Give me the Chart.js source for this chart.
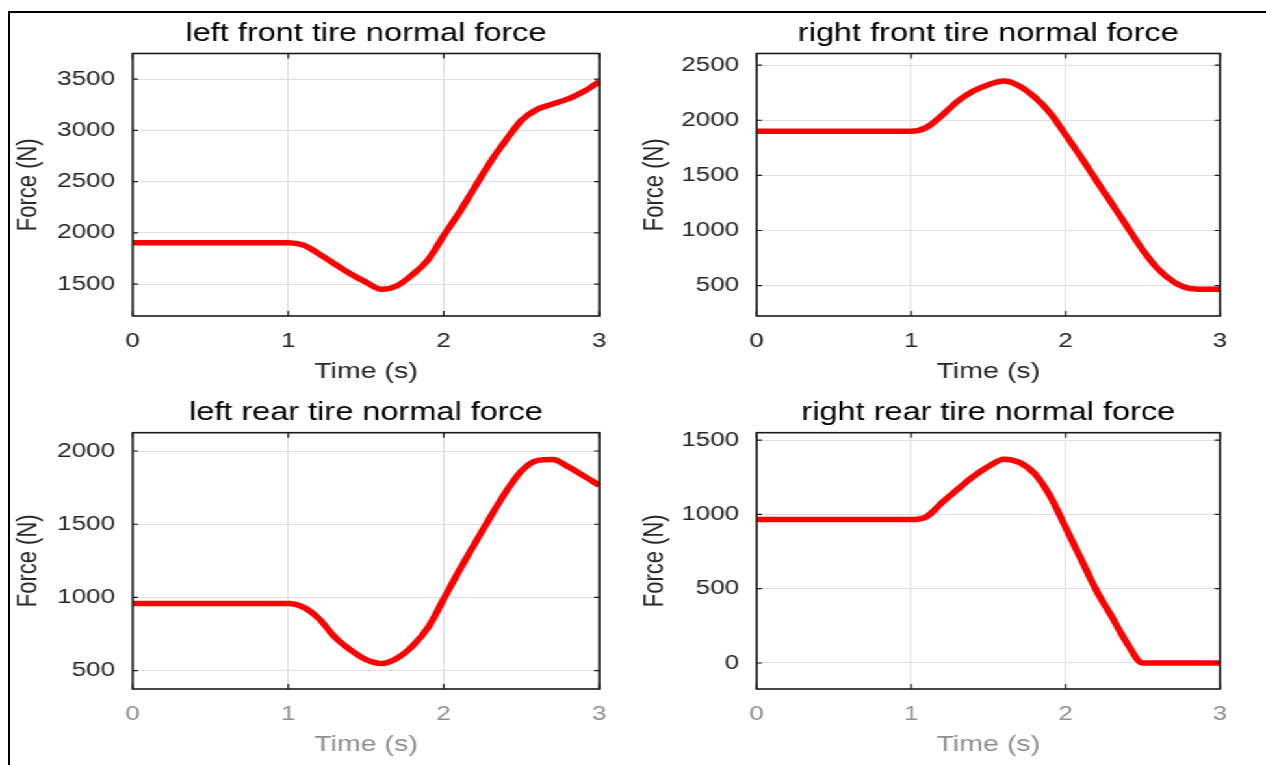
<!DOCTYPE html>
<html>
<head>
<meta charset="utf-8">
<title>Tire normal forces</title>
<script src="https://cdn.jsdelivr.net/npm/chart.js@4.4.1/dist/chart.umd.min.js"></script>
<style>
  html, body { margin: 0; padding: 0; background: #fff; }
  body { width: 1266px; height: 765px; overflow: hidden; position: relative; }
  /* the figure is cropped: only its top and left edge show */
  #frame { position: absolute; left: 8px; top: 11px; width: 1300px; height: 800px;
           border-top: 2px solid #000; border-left: 2px solid #000; }
  /* the source picture is stretched sideways, so the whole stage is too */
  #stage { position: absolute; left: 0; top: 0; width: 974px; height: 765px;
           transform: scaleX(1.2998); transform-origin: 0 0; }
  #stage canvas { position: absolute; left: 0; top: 0; }
</style>
</head>
<body>
<div id="frame"></div>
<div id="stage">
  <canvas id="lf" width="974" height="765"></canvas>
  <canvas id="rf" width="974" height="765"></canvas>
  <canvas id="lr" width="974" height="765"></canvas>
  <canvas id="rr" width="974" height="765"></canvas>
</div>
<script>
  'use strict'

  // Data
  const time = [0, 0.1, 0.2, 0.3, 0.4, 0.5, 0.6, 0.7, 0.8, 0.9, 1.0,
    1.1, 1.2, 1.3, 1.4, 1.5, 1.6, 1.7, 1.8, 1.9, 2.0,
    2.1, 2.2, 2.3, 2.4, 2.5, 2.6, 2.7, 2.8, 2.9, 3.0]

  const leftFront = [1905, 1905, 1905, 1905, 1905, 1905, 1905, 1905, 1905, 1905, 1905,
    1880, 1793, 1697, 1602, 1520, 1450, 1485, 1595, 1740, 1975,
    2200, 2447, 2693, 2905, 3099, 3205, 3257, 3308, 3379, 3477]

  const rightFront = [1900, 1900, 1900, 1900, 1900, 1900, 1900, 1900, 1900, 1900, 1900,
    1935, 2044, 2171, 2262, 2322, 2355, 2311, 2209, 2066, 1868,
    1665, 1452, 1243, 1032, 823, 650, 534, 476, 468, 468]

  const leftRear = [958, 958, 958, 958, 958, 958, 958, 958, 958, 958, 958,
    932, 852, 729, 642, 575, 549, 585, 669, 797, 990,
    1185, 1370, 1550, 1722, 1864, 1934, 1942, 1892, 1830, 1765]

  const rightRear = [965, 965, 965, 965, 965, 965, 965, 965, 965, 965, 965,
    985, 1079, 1168, 1253, 1322, 1372, 1350, 1274, 1123, 913,
    700, 487, 310, 130, 0, 0, 0, 0, 0, 0]

  // tick labels
  const xTicks = [0, 1, 2, 3]
  const yTicksLeftFront = [1500, 2000, 2500, 3000, 3500]
  const yTicksRightFront = [500, 1000, 1500, 2000, 2500]
  const yTicksLeftRear = [500, 1000, 1500, 2000]
  const yTicksRightRear = [0, 500, 1000, 1500]

  const titles = [
    'left front tire normal force',
    'right front tire normal force',
    'left rear tire normal force',
    'right rear tire normal force'
  ]
  const xLabel = 'Time (s)'
  const yLabel = 'Force (N)'

  // Layout, in page pixels (x gets divided by the stretch factor)
  const S = 1266 / 974
  const W = 974
  const H = 765
  const TICK_FONT = 20
  const LABEL_FONT = 22
  const TITLE_FONT = 25
  const X_AXIS_H = 69.5

  Chart.defaults.font.family = '"Liberation Sans", Arial, Helvetica, sans-serif'

  const panels = [
    { id: 'lf', values: leftFront, yTicks: yTicksLeftFront, title: titles[0], yMin: 1190, yMax: 3750,
      area: [132.7, 53.5, 599.3, 316], yLabelX: 29, titleY: 34.3, faded: false },
    { id: 'rf', values: rightFront, yTicks: yTicksRightFront, title: titles[1], yMin: 225, yMax: 2605,
      area: [756.7, 53.5, 1220, 316], yLabelX: 654.5, titleY: 34.3, faded: false },
    { id: 'lr', values: leftRear, yTicks: yTicksLeftRear, title: titles[2], yMin: 375, yMax: 2125,
      area: [132.7, 432.7, 599.3, 689], yLabelX: 29, titleY: 413.5, faded: true },
    { id: 'rr', values: rightRear, yTicks: yTicksRightRear, title: titles[3], yMin: -175, yMax: 1550,
      area: [756.7, 432.7, 1220, 689], yLabelX: 654.5, titleY: 413.5, faded: true }
  ]

  // MATLAB style box with inward tick marks
  const axesBox = {
    id: 'axesBox',
    afterDatasetsDraw (chart) {
      const { ctx, chartArea: a, scales: { x, y } } = chart
      ctx.save()
      ctx.strokeStyle = '#1a1a1a'
      ctx.lineWidth = 1.6
      ctx.strokeRect(a.left, a.top, a.right - a.left, a.bottom - a.top)
      ctx.beginPath()
      for (const t of y.ticks) {
        const p = y.getPixelForValue(t.value)
        ctx.moveTo(a.left, p); ctx.lineTo(a.left + 4, p)
        ctx.moveTo(a.right, p); ctx.lineTo(a.right - 4, p)
      }
      for (const t of x.ticks) {
        const p = x.getPixelForValue(t.value)
        ctx.moveTo(p, a.bottom); ctx.lineTo(p, a.bottom - 5)
        ctx.moveTo(p, a.top); ctx.lineTo(p, a.top + 5)
      }
      ctx.lineWidth = 1.2
      ctx.stroke()
      ctx.restore()
    }
  }

  for (const p of panels) {
    const [l, t, r, b] = p.area
    const labelHalf = LABEL_FONT * 1.2 / 2
    const titleLine = TITLE_FONT * 1.2
    const padLeft = p.yLabelX / S - labelHalf
    const xColor = p.faded ? '#8f8f8f' : '#262626'

    // eslint-disable-next-line no-new
    new Chart(document.getElementById(p.id), {
      type: 'line',
      data: {
        datasets: [{
          data: time.map((s, i) => ({ x: s, y: p.values[i] })),
          borderColor: '#ff0000',
          backgroundColor: '#ff0000',
          borderWidth: 5.5,
          pointRadius: 0,
          cubicInterpolationMode: 'monotone',
          fill: false
        }]
      },
      options: {
        responsive: false,
        animation: false,
        events: [],
        layout: {
          padding: { left: padLeft, right: W - r / S, top: 0, bottom: H - b - X_AXIS_H }
        },
        plugins: {
          legend: { display: false },
          tooltip: { enabled: false },
          title: {
            display: true,
            text: p.title,
            fullSize: false,
            color: '#000',
            font: { size: TITLE_FONT, weight: 'normal' },
            padding: { top: p.titleY - titleLine / 2, bottom: t - p.titleY - titleLine / 2 }
          }
        },
        scales: {
          x: {
            type: 'linear',
            min: xTicks[0],
            max: xTicks[xTicks.length - 1],
            afterFit: (s) => { s.height = X_AXIS_H },
            afterBuildTicks: (s) => { s.ticks = xTicks.map((v) => ({ value: v })) },
            ticks: { padding: 13, color: xColor, font: { size: TICK_FONT } },
            grid: { color: '#dedede', lineWidth: 1, drawTicks: false },
            border: { display: false },
            title: { display: true, text: xLabel, color: xColor, padding: 0, font: { size: LABEL_FONT } }
          },
          y: {
            type: 'linear',
            min: p.yMin,
            max: p.yMax,
            afterFit: (s) => { s.width = l / S - padLeft },
            afterBuildTicks: (s) => { s.ticks = p.yTicks.map((v) => ({ value: v })) },
            ticks: {
              padding: 13.5,
              color: '#262626',
              font: { size: TICK_FONT },
              callback: (v) => String(v)
            },
            grid: { color: '#dedede', lineWidth: 1, drawTicks: false },
            border: { display: false },
            title: { display: true, text: yLabel, color: '#262626', padding: 0, font: { size: LABEL_FONT } }
          }
        }
      },
      plugins: [axesBox]
    })
  }
</script>
</body>
</html>
